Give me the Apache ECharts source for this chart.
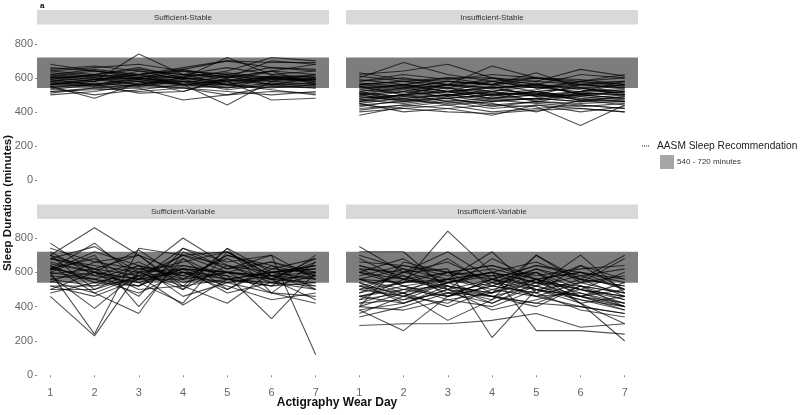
<!DOCTYPE html>
<html><head><meta charset="utf-8">
<script src="https://cdn.jsdelivr.net/npm/echarts@6/dist/echarts.min.js"></script>
<style>html,body{margin:0;padding:0;background:#fff}#c{width:800px;height:415px}</style>
</head><body><div id="c"></div>
<script>
const days = [1,2,3,4,5,6,7];
const yTicks = [0,200,400,600,800];
const panelTitles = ['Sufficient-Stable','Insufficient-Stable','Sufficient-Variable','Insufficient-Variable'];
const bandRange = [540,720];

const sufficientStable = [
[560,590,620,600,580,610,590],[600,620,650,620,600,640,620],[520,540,560,580,560,540,560],
[640,660,680,640,620,660,650],[580,560,600,570,610,590,600],[620,600,580,610,630,600,580],
[540,500,530,560,540,570,550],[680,640,600,650,700,690,690],[500,520,560,540,500,520,510],
[560,580,740,620,560,600,580],[610,640,610,600,720,620,600],[590,620,590,560,440,580,560],
[530,560,510,520,600,700,680],[650,670,640,620,660,620,640],[570,550,580,520,590,560,570],
[610,590,560,590,540,600,620],[550,480,570,600,560,530,500],[600,610,620,640,620,580,590],
[520,530,540,470,500,550,540],[580,600,560,600,580,470,480],[640,620,660,600,640,720,700],
[570,590,600,580,570,610,580],[620,650,620,650,600,640,680],[510,540,520,540,520,500,520],
[590,560,590,620,610,560,600],[560,580,620,560,590,580,620],[630,610,590,640,580,600,610],
[540,570,550,580,530,560,540],[600,580,640,590,620,600,570],[580,620,600,560,580,640,560],
[660,640,620,660,700,660,640],[550,560,580,560,560,590,590]
];
const insufficientStable = [
[500,520,540,510,500,480,500],[460,480,500,470,480,460,470],[540,560,520,540,560,500,520],
[520,540,580,560,520,540,500],[480,500,460,480,500,470,490],[560,580,600,560,580,560,540],
[440,460,480,440,460,450,460],[600,690,620,580,600,580,620],[620,640,680,600,560,620,600],
[580,600,560,670,600,560,580],[510,540,580,560,630,540,560],[590,560,600,600,580,650,610],
[380,430,460,420,440,420,400],[400,420,440,400,420,440,420],[420,440,420,380,440,400,430],
[450,400,420,440,430,320,440],[470,490,500,520,490,500,480],[530,510,540,490,520,540,510],
[550,530,560,540,500,520,560],[490,470,480,500,520,490,470],[570,550,520,580,540,560,570],
[460,500,520,480,470,510,500],[510,490,520,540,560,530,510],[530,560,540,520,550,510,530],
[480,520,490,460,480,520,540],[430,470,450,470,450,430,450],[520,480,500,530,510,470,480],
[560,540,500,510,530,580,550],[500,460,490,520,460,500,520],[470,500,530,500,520,480,460],
[540,520,560,580,540,520,580],[610,580,560,540,560,540,520],[450,480,440,460,480,460,490],
[490,530,480,500,470,510,500],[410,440,470,450,400,470,440],[580,620,590,620,600,590,560],
[520,560,520,480,500,560,540],[470,450,480,430,460,440,420],[550,500,560,520,570,500,480],
[630,590,580,560,600,570,580],[500,540,510,550,490,520,530],[440,420,400,390,410,420,400],
[480,500,520,500,510,490,520],[560,580,540,600,540,580,600],[510,470,500,480,520,470,460]
];
const sufficientVariable = [
[770,600,560,620,600,580,640],[700,860,700,600,560,540,500],[620,770,560,700,720,580,520],
[680,750,600,500,740,600,560],[600,240,740,700,600,560,680],[460,230,600,520,740,480,420],
[580,390,600,800,640,560,580],[640,480,360,720,620,660,600],[550,480,580,410,560,520,700],
[520,520,560,740,660,700,120],[700,620,500,520,420,600,640],[600,560,520,640,580,330,600],
[660,600,730,560,700,640,500],[500,500,620,580,540,480,460],[620,680,540,420,720,560,440],
[580,560,480,600,500,620,680],[720,580,660,540,600,480,660],[540,660,700,500,640,600,620],
[600,700,400,680,560,520,580],[680,640,600,620,600,560,540],[480,540,520,680,500,640,580],
[650,600,560,560,700,620,600],[610,720,640,460,540,580,500],[700,500,580,600,520,440,480],
[560,600,460,740,620,700,560],[630,560,640,580,680,560,660],[520,460,560,600,580,520,540],
[590,620,700,520,560,600,620],[640,540,600,660,720,580,560],[500,600,520,620,480,540,520],
[680,620,580,700,640,540,600],[560,520,640,560,600,660,580],[620,580,540,620,560,600,640],
[740,660,620,640,600,580,600]
];
const insufficientVariable = [
[750,600,720,560,640,580,620],[720,720,500,680,560,600,540],[560,540,840,600,540,460,420],
[400,660,600,480,700,540,480],[290,300,300,320,360,280,300],[380,260,460,520,620,520,400],
[500,600,620,220,500,460,380],[600,520,560,720,480,640,500],[640,560,680,520,600,420,200],
[440,480,320,440,700,560,460],[520,440,540,600,260,260,240],[560,620,460,560,520,700,480],
[480,540,560,500,560,500,600],[620,600,660,540,500,540,680],[460,500,520,420,540,640,560],
[540,420,500,560,460,400,360],[400,380,440,480,560,420,300],[600,680,520,480,600,500,420],
[360,460,540,600,500,440,400],[680,560,600,640,580,620,640],[420,500,560,520,480,380,340],
[500,460,420,540,620,560,520],[580,640,600,580,520,460,500],[460,420,500,380,440,500,460],
[640,580,480,460,420,520,440],[520,480,600,640,560,480,400],[340,400,480,420,520,580,500],
[700,620,560,600,660,560,700],[440,560,500,460,520,440,380],[560,500,460,520,480,560,520],
[500,540,600,560,500,420,460],[620,520,460,560,640,600,560],[480,600,540,460,400,520,480],
[400,480,400,500,460,480,420],[540,460,560,600,540,500,440],[460,520,440,400,500,460,400],
[600,560,520,480,540,520,480],[420,440,480,540,460,540,580],[520,580,500,440,560,600,500],
[660,640,580,620,560,500,460],[380,420,520,460,420,400,360],[560,480,540,580,600,460,540]
];
const panels = [sufficientStable, insufficientStable, sufficientVariable, insufficientVariable];

const gridPos = [
  {left:37, top:26, width:292, height:161.5},
  {left:346, top:26, width:292, height:161.5},
  {left:37, top:220, width:292, height:163},
  {left:346, top:220, width:292, height:163}
];
const FONT = 'Liberation Sans, Arial, sans-serif';
const grid = gridPos.map(g => Object.assign({containLabel:false}, g));
const xAxis = gridPos.map((g,i) => ({
  type:'value', gridIndex:i, min:0.7, max:7.3,
  axisLine:{show:false}, splitLine:{show:false},
  axisTick:{show:i>=2, customValues:days, length:2, lineStyle:{color:'#888'}},
  axisLabel:{show:i>=2, customValues:days, color:'#666', fontSize:11, fontFamily:FONT, margin:4}
}));
const yAxis = gridPos.map((g,i) => ({
  type:'value', gridIndex:i, min:-45, max:905,
  axisLine:{show:false}, splitLine:{show:false},
  axisTick:{show:i%2===0, customValues:yTicks, length:2, lineStyle:{color:'#888'}},
  axisLabel:{show:i%2===0, customValues:yTicks, color:'#666', fontSize:11, fontFamily:FONT, margin:4}
}));
const series = [];
panels.forEach((lines, p) => {
  series.push({
    type:'line', xAxisIndex:p, yAxisIndex:p, data:[], silent:true, z:1,
    markArea:{silent:true, itemStyle:{color:'#7d7d7d', opacity:1},
      data:[[{yAxis:bandRange[0]},{yAxis:bandRange[1]}]]}
  });
  lines.forEach(vals => {
    series.push({
      type:'line', xAxisIndex:p, yAxisIndex:p, z:2, silent:true,
      symbol:'none', data: days.map((d,k)=>[d, vals[k]]),
      lineStyle:{color:'rgba(0,0,0,0.68)', width:1.1}
    });
  });
});

const graphic = [];
gridPos.forEach((g,i) => {
  const sy = i<2 ? 10 : 204.5;
  graphic.push({type:'rect', left:g.left, top:sy, shape:{width:g.width, height:14.5}, style:{fill:'#d9d9d9'}, silent:true});
  graphic.push({type:'text', x:g.left+g.width/2, y:sy+7.5, style:{text:panelTitles[i], fill:'#333', font:'8px '+FONT, textAlign:'center', textVerticalAlign:'middle'}, silent:true});
});
graphic.push({type:'text', x:40, y:2, style:{text:'a', fill:'#000', font:'bold 8px '+FONT}, silent:true});
graphic.push({type:'text', x:8, y:203, rotation:Math.PI/2, style:{text:'Sleep Duration (minutes)', fill:'#111', font:'bold 11.5px '+FONT, textAlign:'center', textVerticalAlign:'middle'}, silent:true});
graphic.push({type:'text', x:337, y:403, style:{text:'Actigraphy Wear Day', fill:'#111', font:'bold 12px '+FONT, textAlign:'center', textVerticalAlign:'middle'}, silent:true});
graphic.push({type:'line', shape:{x1:642, y1:146, x2:650, y2:146}, style:{stroke:'#222', lineWidth:1, lineDash:[1,1]}, silent:true});
graphic.push({type:'text', x:657, y:146, style:{text:'AASM Sleep Recommendation', fill:'#222', font:'10.2px '+FONT, textVerticalAlign:'middle'}, silent:true});
graphic.push({type:'rect', left:660, top:155, shape:{width:14, height:14}, style:{fill:'#a6a6a6'}, silent:true});
graphic.push({type:'text', x:677, y:162, style:{text:'540 - 720 minutes', fill:'#333', font:'8px '+FONT, textVerticalAlign:'middle'}, silent:true});

const chart = echarts.init(document.getElementById('c'), null, {renderer:'canvas'});
chart.setOption({animation:false, backgroundColor:'#fff', grid, xAxis, yAxis, series, graphic});
</script></body></html>
